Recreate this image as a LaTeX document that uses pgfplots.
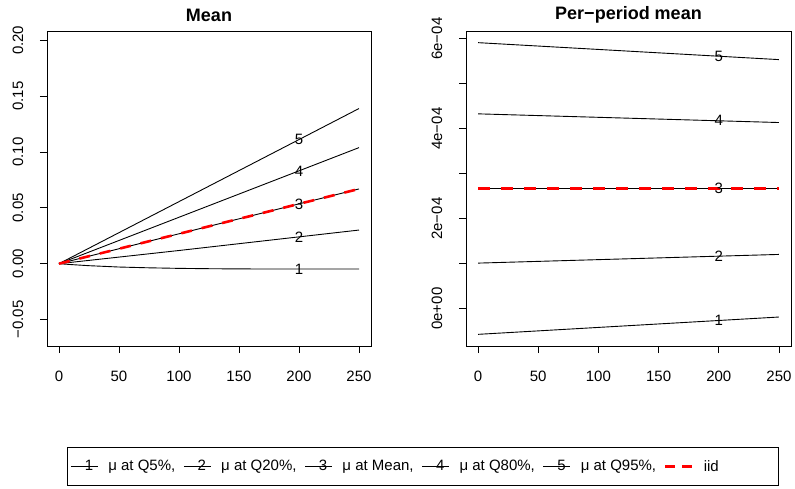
\documentclass[border=0pt]{standalone}
\usepackage{pgfplots}
\pgfplotsset{compat=1.18}
\usepackage{fontspec}
\setmainfont{Liberation Sans}
\newcommand{\fs}{\fontsize{15}{18}\selectfont}
\pgfplotsset{
  rstyle/.style={
    scale only axis, anchor=south west, height=315pt,
    xmin=-10, xmax=260,
    axis line style={line width=0.9pt},
    tick align=outside, major tick length=7pt,
    xtick pos=bottom, ytick pos=left,
    major tick style={black, line width=0.9pt},
    tick label style={font=\fs},
    scaled x ticks=false, scaled y ticks=false,
    xtick={0,50,100,150,200,250},
    xticklabels={0,50,100,150,200,250},
    xticklabel style={anchor=center}, xticklabel shift=23pt,
    yticklabel style={rotate=90, anchor=center}, yticklabel shift=22pt,
    title style={font=\bfseries\fontsize{18}{22}\selectfont, at={(0.5,1)}, anchor=center, yshift=10pt},
    every node near coord/.append style={anchor=center, font=\fs, inner sep=0pt, text=black},
  },
  numline/.style={black, line width=0.9pt,
    legend image code/.code={\draw[black,line width=0.9pt] (0pt,0pt)--(27pt,0pt); \node[font=\fs, inner sep=0pt] at (13.5pt,0pt) {#1};}},
}
\begin{document}
\begin{tikzpicture}
\useasboundingbox (0,0) rectangle (795pt,488pt);
\begin{axis}[rstyle, at={(47pt,142pt)}, width=324pt,
  ymin=-0.0737, ymax=0.2083,
  ytick={-0.05,0,0.05,0.10,0.15,0.20},
  yticklabels={−0.05,0.00,0.05,0.10,0.15,0.20},
  title={Mean},
  legend style={at={(0.0617,-0.3197)}, anchor=north west, draw=black, line width=0.9pt,
    font=\fs, inner xsep=3pt, inner ysep=11pt,
    nodes={inner xsep=0pt},
    /tikz/every odd column/.append style={column sep=10pt},
    /tikz/every even column/.append style={column sep=8pt}},
  legend columns=6, legend cell align=left]
\addplot[numline=1] coordinates {(0,0) (10,-0.0008) (25,-0.0018) (50,-0.0030) (75,-0.0037) (100,-0.0042) (125,-0.0045) (150,-0.0047) (200,-0.0048) (250,-0.0048)};
\addlegendentry{μ at Q5\%,}
\addplot[numline=2] coordinates {(0,0) (100,0.0118) (200,0.0240) (250,0.0301)};
\addlegendentry{μ at Q20\%,}
\addplot[numline=3] coordinates {(0,0) (250,0.0669)};
\addlegendentry{μ at Mean,}
\addplot[numline=4] coordinates {(0,0) (200,0.0831) (250,0.1039)};
\addlegendentry{μ at Q80\%,}
\addplot[numline=5] coordinates {(0,0) (200,0.1111) (250,0.1389)};
\addlegendentry{μ at Q95\%,}
\addplot[forget plot, draw=none, mark=none, nodes near coords, point meta=explicit symbolic]
  coordinates {(200,-0.0048)[1] (200,0.0240)[2] (200,0.0535)[3] (200,0.0831)[4] (200,0.1111)[5]};
\addplot[red, line width=2.6pt, dash pattern=on 11pt off 10pt,
  legend image code/.code={\draw[red,line width=2.6pt, dash pattern=on 10pt off 7pt] (0pt,0pt)--(27pt,0pt);}]
  coordinates {(0,0) (250,0.0669)};
\addlegendentry{iid\hspace*{57pt}}
\end{axis}
\begin{axis}[rstyle, at={(466pt,142pt)}, width=325pt,
  ymin=-0.000083, ymax=0.000617,
  ytick={0,0.0001,0.0002,0.0003,0.0004,0.0005,0.0006},
  yticklabels={0e+00,,2e−04,,4e−04,,6e−04},
  title={Per−period mean}]
\addplot[black, line width=0.9pt] coordinates {(0,-0.0000571) (250,-0.0000186)};
\addplot[black, line width=0.9pt] coordinates {(0,0.0001012) (250,0.0001205)};
\addplot[black, line width=0.9pt] coordinates {(0,0.0002671) (250,0.0002671)};
\addplot[black, line width=0.9pt] coordinates {(0,0.0004329) (250,0.0004136)};
\addplot[black, line width=0.9pt] coordinates {(0,0.0005911) (250,0.0005534)};
\addplot[draw=none, mark=none, nodes near coords, point meta=explicit symbolic]
  coordinates {(200,-0.0000263)[1] (200,0.0001166)[2] (200,0.0002671)[3] (200,0.0004175)[4] (200,0.0005609)[5]};
\addplot[red, line width=2.6pt, dash pattern=on 12pt off 11pt] coordinates {(0,0.0002671) (250,0.0002671)};
\end{axis}
\end{tikzpicture}
\end{document}
